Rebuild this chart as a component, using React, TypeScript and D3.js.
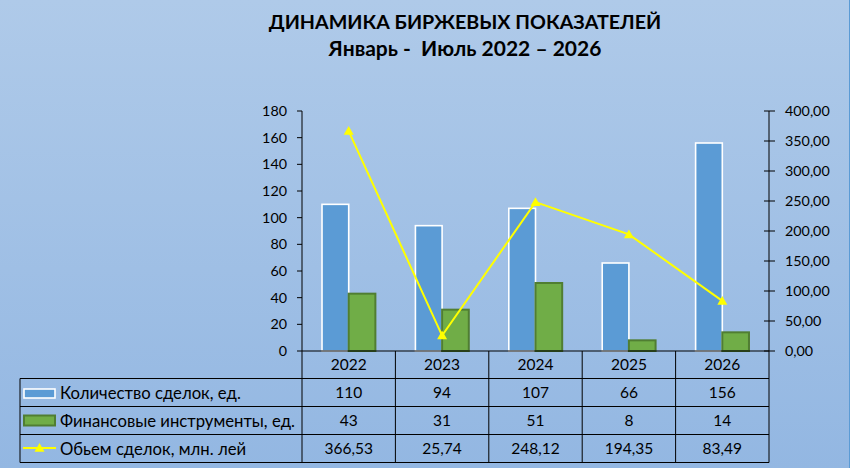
import React from "react";
import * as d3 from "d3";

const years = ["2022", "2023", "2024", "2025", "2026"];
const deals = [110, 94, 107, 66, 156];
const instruments = [43, 31, 51, 8, 14];
const volume = [366.53, 25.74, 248.12, 194.35, 83.49];
const leftTicks = [0, 20, 40, 60, 80, 100, 120, 140, 160, 180];
const rightTicks = [0, 50, 100, 150, 200, 250, 300, 350, 400];
const seriesNames = ["Количество сделок, ед.", "Финансовые инструменты, ед.", "Обьем сделок, млн. лей"];
const title1 = "ДИНАМИКА БИРЖЕВЫХ ПОКАЗАТЕЛЕЙ";
const title2 = "Январь -  Июль 2022 – 2026";

const W = 850;
const H = 468;
const FONT = "Lato, 'Open Sans', sans-serif";

const fmt2 = (v: number) => v.toFixed(2).replace(".", ",");

export default function App() {
  const x = d3.scaleBand<string>().domain(years).range([302, 769]).padding(0);
  const yL = d3.scaleLinear().domain([0, 180]).range([351, 111]);
  const yR = d3.scaleLinear().domain([0, 400]).range([351, 111]);
  const step = x.step();
  const bw = step / 3.5;
  const cx = (y: string) => (x(y) as number) + step / 2;

  const line = d3
    .line<number>()
    .x((_, i) => cx(years[i]))
    .y((d) => yR(d));

  const tri = (px: number, py: number, s = 5) =>
    `M${px},${py - s} L${px + s},${py + s * 0.75} L${px - s},${py + s * 0.75} Z`;

  const rowTop = [351, 378.5, 406.5, 434.5, 462.5];
  const tableLeft = 20;
  const tableRight = 769;

  const rowVals = [deals.map(String), instruments.map(String), volume.map(fmt2)];

  return (
    <svg
      width={W}
      height={H}
      style={{ position: "absolute", left: 0, top: 0 }}
      fontFamily={FONT}
    >
      <defs>
        <linearGradient id="bg" x1="0" y1="0" x2="0" y2="1">
          <stop offset="0" stopColor="#afcae9" />
          <stop offset="1" stopColor="#93b7e2" />
        </linearGradient>
      </defs>
      <rect x={0} y={0} width={W} height={H} fill="url(#bg)" />
      <line x1={849.5} x2={849.5} y1={0} y2={H} stroke="#5b9bd5" strokeWidth={1} />

      <text x={465} y={28.5} textAnchor="middle" fontWeight="bold" fontSize={19.7} fill="#000">
        {title1}
      </text>
      <text x={465} y={55.5} textAnchor="middle" fontWeight="bold" fontSize={21} fill="#000" style={{ whiteSpace: "pre" }}>
        {title2}
      </text>

      {/* bars */}
      {years.map((yr, i) => (
        <g key={yr}>
          <rect
            x={cx(yr) - bw}
            y={yL(deals[i])}
            width={bw}
            height={351 - yL(deals[i])}
            fill="#5b9bd5"
            stroke="#ffffff"
            strokeWidth={1.6}
          />
          <rect
            x={cx(yr)}
            y={yL(instruments[i])}
            width={bw}
            height={351 - yL(instruments[i])}
            fill="#70ad47"
            stroke="#507e32"
            strokeWidth={2}
          />
        </g>
      ))}

      {/* left axis */}
      <line x1={302} x2={302} y1={111} y2={351} stroke="#000" strokeWidth={1} />
      {leftTicks.map((t) => (
        <g key={t}>
          <line x1={297} x2={302} y1={yL(t)} y2={yL(t)} stroke="#000" />
          <text x={287} y={yL(t)} dy="0.35em" textAnchor="end" fontSize={14.3} fill="#000">
            {t}
          </text>
        </g>
      ))}

      {/* right axis */}
      <line x1={769} x2={769} y1={111} y2={351} stroke="#000" strokeWidth={1} />
      {rightTicks.map((t) => (
        <g key={t}>
          <line x1={764} x2={775} y1={yR(t)} y2={yR(t)} stroke="#000" />
          <text x={785} y={yR(t)} dy="0.35em" textAnchor="start" fontSize={14.3} fill="#000">
            {fmt2(t)}
          </text>
        </g>
      ))}

      {/* line series */}
      <path d={line(volume) || ""} fill="none" stroke="#ffff00" strokeWidth={2} />
      {volume.map((v, i) => (
        <path key={i} d={tri(cx(years[i]), yR(v))} fill="#ffff00" />
      ))}

      {/* data table */}
      <g stroke="#000" strokeWidth={1}>
        <line x1={302} x2={tableRight} y1={351} y2={351} />
        {rowTop.slice(1).map((ry) => (
          <line key={ry} x1={tableLeft} x2={tableRight} y1={ry} y2={ry} />
        ))}
        <line x1={tableLeft} x2={tableLeft} y1={rowTop[1]} y2={rowTop[4]} />
        {years.map((yr) => (
          <line key={yr} x1={x(yr) as number} x2={x(yr) as number} y1={351} y2={rowTop[4]} />
        ))}
        <line x1={tableRight} x2={tableRight} y1={351} y2={rowTop[4]} />
      </g>
      {years.map((yr) => (
        <text key={yr} x={cx(yr)} y={(rowTop[0] + rowTop[1]) / 2} dy="0.36em" textAnchor="middle" fontSize={15.5} fill="#000">
          {yr}
        </text>
      ))}
      {rowVals.map((vals, r) =>
        vals.map((v, i) => (
          <text
            key={r + "-" + i}
            x={cx(years[i])}
            y={(rowTop[r + 1] + rowTop[r + 2]) / 2}
            dy="0.36em"
            textAnchor="middle"
            fontSize={15.5}
            fill="#000"
          >
            {v}
          </text>
        ))
      )}

      {/* legend keys */}
      <rect x={24} y={389} width={31} height={9} fill="#5b9bd5" stroke="#ffffff" strokeWidth={1.6} />
      <rect x={24} y={415.5} width={31} height={10} fill="#70ad47" stroke="#507e32" strokeWidth={2} />
      <line x1={23} x2={56} y1={448} y2={448} stroke="#ffff00" strokeWidth={2} />
      <path d={tri(39.5, 448)} fill="#ffff00" />
      {seriesNames.map((n, r) => (
        <text key={n} x={60} y={(rowTop[r + 1] + rowTop[r + 2]) / 2} dy="0.36em" fontSize={16.7} fill="#000">
          {n}
        </text>
      ))}
    </svg>
  );
}
